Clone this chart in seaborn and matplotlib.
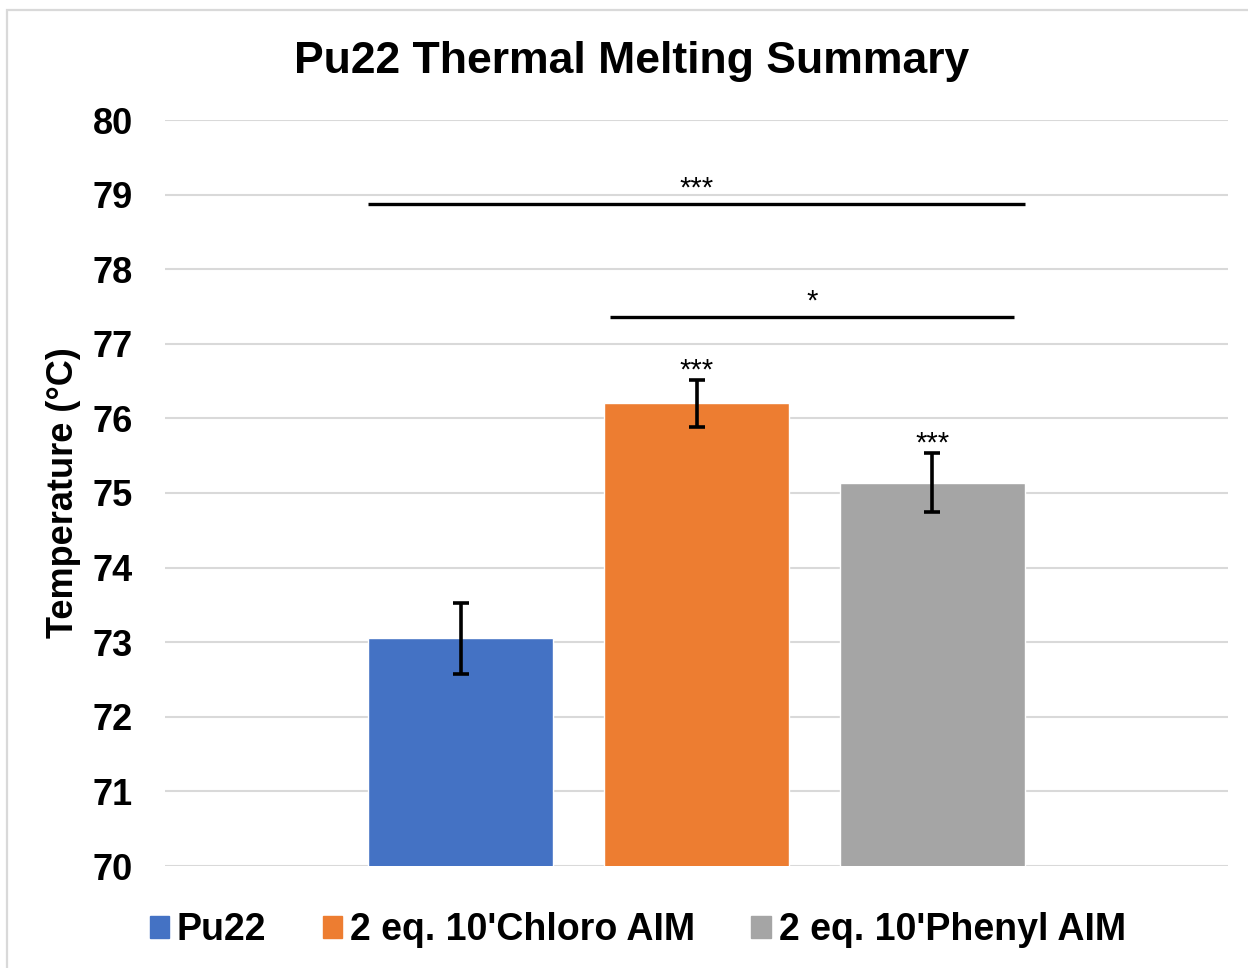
import matplotlib
matplotlib.use("Agg")
import matplotlib.pyplot as plt
import matplotlib.patches as mpatches
import seaborn as sns
import pandas as pd

# Melting temperatures (mean and error) for each sample
samples = ["Pu22", "2 eq. 10'Chloro AIM", "2 eq. 10'Phenyl AIM"]
tm_mean = [73.05, 76.20, 75.14]
tm_err = [0.48, 0.31, 0.39]
bar_stars = ["", "***", "***"]
colors = ["#4472C4", "#ED7D31", "#A5A5A5"]

# Pairwise comparisons: (first sample, second sample, label, bracket height)
comparisons = [(0, 2, "***", 78.87), (1, 2, "*", 77.36)]

yticks = list(range(70, 81))

sns.set_theme(style="white")
plt.rcParams["font.family"] = ["Liberation Sans", "DejaVu Sans"]
plt.rcParams["text.color"] = "black"
plt.rcParams["ytick.color"] = "black"
plt.rcParams["axes.labelcolor"] = "black"

df = pd.DataFrame({"group": [""] * len(samples), "sample": samples, "tm": tm_mean})

fig = plt.figure(figsize=(12.48, 9.68), dpi=100)
ax = fig.add_axes([165 / 1248, 1 - 866 / 968, (1228 - 165) / 1248, (866 - 120) / 968])

sns.barplot(data=df, x="group", y="tm", hue="sample", hue_order=samples,
            palette=colors, width=0.666, gap=0.212, errorbar=None,
            saturation=1, ax=ax, legend=False, zorder=2)

ax.set_ylim(70, 80)
ax.set_xlim(-0.5, 0.5)
ax.set_yticks(yticks)
ax.set_yticklabels([str(t) for t in yticks], fontsize=26, fontweight="bold", color="black")
ax.set_xticks([])
ax.set_xlabel("")
ax.set_ylabel("Temperature (°C)", fontsize=26, fontweight="bold", color="black")
ax.yaxis.set_label_coords(-0.079, 0.5)
ax.yaxis.grid(True, color="#d9d9d9", linewidth=1.5, zorder=0)
ax.set_axisbelow(True)
for s in ax.spines.values():
    s.set_visible(False)
ax.tick_params(axis="y", length=0, pad=23)

# Bar geometry from the drawn patches
bars = sorted([p for p in ax.patches if p.get_height() > 0], key=lambda p: p.get_x())
centers = [p.get_x() + p.get_width() / 2 for p in bars]
lefts = [p.get_x() for p in bars]
rights = [p.get_x() + p.get_width() for p in bars]

ax.errorbar(centers, tm_mean, yerr=tm_err, fmt="none", ecolor="black",
            elinewidth=2.6, capsize=5.5, capthick=2.6, zorder=3)

for cx, m, e, s in zip(centers, tm_mean, tm_err, bar_stars):
    if s:
        ax.annotate(s, (cx, m + e), xytext=(0, -3), textcoords="offset points",
                    ha="center", va="bottom", fontsize=21, color="black")

# Significance brackets
for i, j, lab, h in comparisons:
    x0 = lefts[i] if i == 0 else lefts[i] + 0.006
    x1 = rights[j] if i == 0 else rights[j] - 0.011
    ax.plot([x0, x1], [h, h], color="black", linewidth=2.4, solid_capstyle="butt", zorder=3)
    ax.annotate(lab, ((x0 + x1) / 2, h), xytext=(0, 1), textcoords="offset points",
                ha="center", va="bottom", fontsize=21, color="black")

fig.suptitle("Pu22 Thermal Melting Summary", x=0.506, y=1 - 61 / 968, va="center",
             fontsize=32, fontweight="bold", color="black")

handles = [mpatches.Patch(color=c, label=l) for c, l in zip(colors, samples)]
fig.legend(handles=handles, loc="center", bbox_to_anchor=(0.511, 1 - 930 / 968),
           ncol=3, frameon=False, prop={"size": 27, "weight": "bold"},
           handlelength=0.52, handleheight=0.52, handletextpad=0.21, columnspacing=1.5,
           labelcolor="black")

# Light frame around the chart area
fig.patches.append(mpatches.Rectangle((7 / 1248, -0.01), 1.02, 1 - 10 / 968 + 0.01,
                                      transform=fig.transFigure, fill=False,
                                      edgecolor="#d9d9d9", linewidth=1.6))

fig.savefig("out.png", dpi=100)
